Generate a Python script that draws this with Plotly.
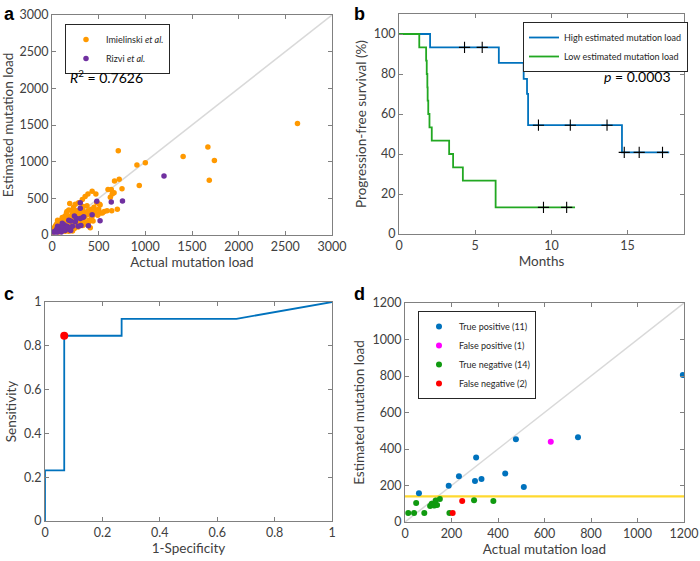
import plotly.graph_objects as go

# ---------------- Data ----------------
# Panel a: (actual, estimated)
imiel_actual = [2630,1670,1740,1685,1405,710,1000,910,935,720,670,750,665,645,600,635,625,590,560,520,
                470,430,385,355,325,285,190,515,480,450,420,400,375,350,330,310,290,270,250,230,
                210,190,170,150,140,130,120,110,100,90,80,70,60,50,40,30,20,15,25,35,
                45,55,65,75,85,95,105,115,125,135,145,155,160,175,185,195,205,215,225,235,
                245,255,265,275,285,295,305,315,325,335,345,355,365,375,385,395,405,415,425,435,
                445,460,475,490,500,510,540,340,300,260,240,200,180,160,140,220,280,320,360,380,
                410,440,200,110,90,70,120,150,60,180,160,215,230,700,330,250,290,110,640,395]
imiel_est = [1520,1200,1015,745,1070,1150,985,955,675,760,735,630,575,560,620,620,515,330,320,300,
             560,595,560,525,485,440,430,410,440,380,350,320,300,290,330,300,260,240,280,300,
             270,230,250,220,260,200,170,180,150,170,130,140,110,90,80,60,50,40,100,120,
             140,160,90,180,120,200,110,140,240,130,170,300,150,190,130,160,210,180,150,230,
             200,170,330,180,200,320,230,270,250,390,240,300,270,400,330,200,280,310,240,270,
             300,330,290,270,350,420,300,180,150,120,90,70,50,60,50,55,110,140,170,140,
             100,190,120,60,50,40,90,100,200,340,320,330,380,350,130,420,200,240,330,180]
rizvi_actual = [1200,755,635,480,515,430,390,303,303,330,303,240,200,200,160,150,130,120,100,90,
                80,70,60,50,40,30,20,110,140,180,260,280,250,220,340,180,170,60,100,310]
rizvi_est = [805,465,450,460,195,275,125,440,365,240,225,260,190,60,120,90,140,100,70,110,
             60,50,120,80,40,50,40,160,60,80,230,120,180,120,250,200,110,40,40,130]
diag_a = [0, 3000]

# Panel b: Kaplan-Meier (months, % PFS)
high_t = [0, 2.04, 6.55, 8.18, 8.40, 8.47, 14.63, 17.73]
high_s = [100, 93.3, 85.6, 77.6, 70.1, 54.4, 40.8, 40.8]
high_cens_t = [4.3, 5.46, 9.15, 11.24, 13.65, 14.78, 15.76, 17.29]
high_cens_s = [93.3, 93.3, 54.4, 54.4, 54.4, 40.8, 40.8, 40.8]
low_t = [0, 1.33, 1.78, 1.82, 1.86, 1.88, 1.92, 2.0, 2.15, 3.29, 3.55, 4.19, 6.34, 11.55]
low_s = [100, 93.3, 86.7, 80, 73.3, 66.7, 60, 53.3, 46.7, 40, 33.3, 26.7, 13.3, 13.3]
low_cens_t = [9.48, 11.0]
low_cens_s = [13.3, 13.3]

# Panel c: ROC
roc_fpr = [0, 0, 0.067, 0.067, 0.267, 0.267, 0.667, 1]
roc_tpr = [0, 0.231, 0.231, 0.846, 0.846, 0.923, 0.923, 1]
opt_fpr = [0.067]
opt_tpr = [0.846]

# Panel d
tp_actual = [1195, 744, 477, 306, 431, 232, 329, 301, 511, 188, 60]
tp_est = [805, 464, 453, 354, 266, 251, 235, 225, 192, 198, 158]
fp_actual = [627]
fp_est = [440]
tn_actual = [14, 39, 83, 48, 108, 115, 122, 127, 138, 150, 191, 297, 380, 132]
tn_est = [49, 49, 49, 104, 88, 100, 92, 90, 93, 126, 49, 119, 115, 118]
fn_actual = [246, 205]
fn_est = [115, 49]
threshold = [140, 140]
diag_d = [0, 1200]

# ---------------- Styles ----------------
W, H = 700, 561
FONT = "Lato"
AX_COLOR = "#808080"
TXT = "#404040"
BLUE = "#0072BD"

def dom_x(p0, p1):
    return [p0 / W, p1 / W]

def dom_y(top, bottom):
    return [1 - bottom / H, 1 - top / H]

def axis(domain, rng, tickvals, title, anchor, ticktext=None, standoff=4):
    d = dict(domain=domain, range=rng, tickvals=tickvals, anchor=anchor, automargin=False,
             showgrid=False, zeroline=False, showline=True, linecolor=AX_COLOR, linewidth=1,
             mirror="ticks", ticks="inside", ticklen=4, tickcolor=AX_COLOR,
             tickfont=dict(family=FONT, size=12.5, color=TXT),
             title=dict(text=title, font=dict(family=FONT, size=13.5, color=TXT), standoff=standoff))
    if ticktext is not None:
        d["ticktext"] = ticktext
    return d

fig = go.Figure()

# Panel a
fig.add_trace(go.Scatter(x=diag_a, y=diag_a, mode="lines", line=dict(color="#d9d9d9", width=1.5),
                         showlegend=False, xaxis="x", yaxis="y", hoverinfo="skip"))
fig.add_trace(go.Scatter(x=imiel_actual, y=imiel_est, mode="markers", name="Imielinski <i>et al.</i>",
                         marker=dict(color="#FF9900", size=5.5), xaxis="x", yaxis="y", legend="legend"))
fig.add_trace(go.Scatter(x=rizvi_actual, y=rizvi_est, mode="markers", name="Rizvi <i>et al.</i>",
                         marker=dict(color="#7030A0", size=5.5), xaxis="x", yaxis="y", legend="legend"))

# Panel b
fig.add_trace(go.Scatter(x=high_t, y=high_s, mode="lines", line=dict(color=BLUE, width=1.8, shape="hv"),
                         name="High estimated mutation load", xaxis="x2", yaxis="y2", legend="legend2"))
fig.add_trace(go.Scatter(x=low_t, y=low_s, mode="lines", line=dict(color="#22A822", width=1.8, shape="hv"),
                         name="Low estimated mutation load", xaxis="x2", yaxis="y2", legend="legend2"))
fig.add_trace(go.Scatter(x=high_cens_t + low_cens_t, y=high_cens_s + low_cens_s, mode="markers",
                         marker=dict(symbol="cross-thin", size=8, line=dict(color="black", width=1.1)),
                         showlegend=False, xaxis="x2", yaxis="y2"))

# Panel c
fig.add_trace(go.Scatter(x=roc_fpr, y=roc_tpr, mode="lines", line=dict(color=BLUE, width=1.8),
                         showlegend=False, xaxis="x3", yaxis="y3"))
fig.add_trace(go.Scatter(x=opt_fpr, y=opt_tpr, mode="markers", marker=dict(color="#FF0000", size=8),
                         showlegend=False, xaxis="x3", yaxis="y3"))

# Panel d
fig.add_trace(go.Scatter(x=diag_d, y=diag_d, mode="lines", line=dict(color="#d9d9d9", width=1.5),
                         showlegend=False, xaxis="x4", yaxis="y4", hoverinfo="skip"))
fig.add_trace(go.Scatter(x=diag_d, y=threshold, mode="lines", line=dict(color="#FFD92F", width=2.2),
                         showlegend=False, xaxis="x4", yaxis="y4"))
fig.add_trace(go.Scatter(x=tp_actual, y=tp_est, mode="markers", name="True positive (11)",
                         marker=dict(color=BLUE, size=6), xaxis="x4", yaxis="y4", legend="legend3"))
fig.add_trace(go.Scatter(x=fp_actual, y=fp_est, mode="markers", name="False positive (1)",
                         marker=dict(color="#FF00FF", size=6), xaxis="x4", yaxis="y4", legend="legend3"))
fig.add_trace(go.Scatter(x=tn_actual, y=tn_est, mode="markers", name="True negative (14)",
                         marker=dict(color="#109A10", size=6), xaxis="x4", yaxis="y4", legend="legend3"))
fig.add_trace(go.Scatter(x=fn_actual, y=fn_est, mode="markers", name="False negative (2)",
                         marker=dict(color="#FF0000", size=6), xaxis="x4", yaxis="y4", legend="legend3"))

leg_common = dict(bgcolor="white", bordercolor="#262626", borderwidth=1,
                  font=dict(family=FONT, size=9, color="#262626"),
                  xanchor="left", yanchor="top", tracegroupgap=0, itemsizing="trace", itemwidth=30)

fig.update_layout(
    width=W, height=H, margin=dict(l=0, r=0, t=0, b=0),
    paper_bgcolor="white", plot_bgcolor="white",
    xaxis=axis(dom_x(52, 332), [0, 3000], [0, 500, 1000, 1500, 2000, 2500, 3000], "Actual mutation load", "y"),
    yaxis=axis(dom_y(15, 235), [0, 3000], [0, 500, 1000, 1500, 2000, 2500, 3000], "Estimated mutation load", "x"),
    xaxis2=axis(dom_x(399, 684), [0, 18.7], [0, 5, 10, 15], "Months", "y2"),
    yaxis2=axis(dom_y(14, 234), [0, 110], [0, 20, 40, 60, 80, 100], "Progression-free survival (%)", "x2"),
    xaxis3=axis(dom_x(45, 332), [0, 1], [0, 0.2, 0.4, 0.6, 0.8, 1], "1-Specificity", "y3",
                ticktext=["0", "0.2", "0.4", "0.6", "0.8", "1"]),
    yaxis3=axis(dom_y(302, 521), [0, 1], [0, 0.2, 0.4, 0.6, 0.8, 1], "Sensitivity", "x3",
                ticktext=["0", "0.2", "0.4", "0.6", "0.8", "1"]),
    xaxis4=axis(dom_x(405, 684), [0, 1200], [0, 200, 400, 600, 800, 1000, 1200], "Actual mutation load", "y4"),
    yaxis4=axis(dom_y(303, 522), [0, 1200], [0, 200, 400, 600, 800, 1000, 1200], "Estimated mutation load", "x4"),
    legend=dict(x=65 / W, y=1 - 24 / H, **leg_common),
    legend2=dict(x=523 / W, y=1 - 22 / H, **leg_common),
    legend3=dict(x=418 / W, y=1 - 311 / H, **leg_common),
    showlegend=True,
)

annos = [
    dict(text="<b>a</b>", x=2 / W, y=1 - 2 / H),
    dict(text="<b>b</b>", x=352 / W, y=1 - 2 / H),
    dict(text="<b>c</b>", x=2 / W, y=1 - 282 / H),
    dict(text="<b>d</b>", x=352 / W, y=1 - 282 / H),
]
for a in annos:
    fig.add_annotation(xref="paper", yref="paper", xanchor="left", yanchor="top", showarrow=False,
                       font=dict(family="Liberation Sans", size=18, color="black"), **a)

fig.add_annotation(xref="paper", yref="paper", x=68 / W, y=1 - 77 / H, xanchor="left", yanchor="middle",
                   showarrow=False, text="<i>R</i><sup>2</sup> = 0.7626",
                   font=dict(family=FONT, size=14, color="black"))
fig.add_annotation(xref="paper", yref="paper", x=673 / W, y=1 - 77 / H, xanchor="right", yanchor="middle",
                   showarrow=False, text="<i>p</i> = 0.0003",
                   font=dict(family=FONT, size=14, color="black"))

fig.write_html("out.html", config={"displayModeBar": False},
               post_script="document.body.style.margin='0px';")
